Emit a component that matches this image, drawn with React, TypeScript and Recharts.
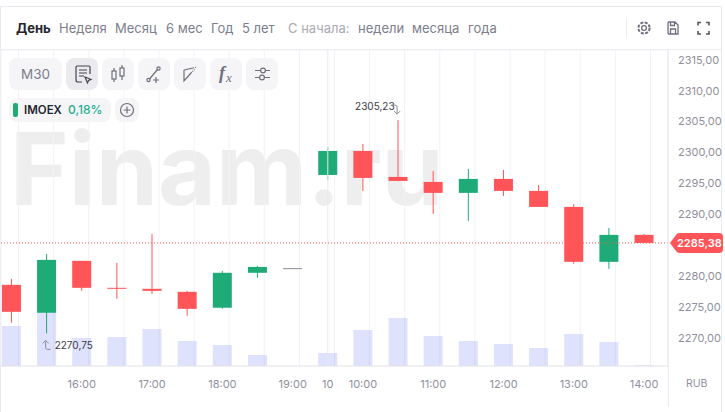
import React from "react";
import { Bar, CartesianGrid, ComposedChart, ReferenceDot, ReferenceLine, XAxis, YAxis } from "recharts";

const FONT = "Inter, 'Noto Sans', sans-serif";
const RED = "#ff5458";
const GREEN = "#1fab78";
const FLAT = "#8d8a9e";

// 30 minute candles, one slot per index
const slots = ["15:00", "15:30", "16:00", "16:30", "17:00", "17:30", "18:00", "18:30", "19:00", "10", "10:00", "10:30", "11:00", "11:30", "12:00", "12:30", "13:00", "13:30", "14:00"];
const opens = [2278.6, 2274.08, 2282.48, 2278.12, 2277.96, 2277.47, 2274.9, 2280.55, 2281.3, 2296.37, 2300.25, 2296.05, 2295.24, 2293.47, 2295.73, 2293.79, 2291.2, 2282.32, 2286.68];
const closes = [2274.24, 2282.64, 2278.12, 2277.96, 2277.63, 2274.72, 2280.55, 2281.5, 2281.3, 2300.25, 2295.89, 2295.4, 2293.47, 2295.73, 2293.79, 2291.2, 2282.32, 2286.68, 2285.38];
const highs = [2279.57, 2283.6, 2282.48, 2282.16, 2286.85, 2277.63, 2280.87, 2281.67, 2281.3, 2300.9, 2301.38, 2305.23, 2297.02, 2297.34, 2297.18, 2294.76, 2291.69, 2287.81, 2286.84];
const lows = [2272.5, 2270.75, 2277.63, 2276.35, 2277.15, 2273.6, 2274.72, 2279.74, 2281.3, 2295.57, 2293.79, 2295.4, 2290.07, 2288.94, 2292.98, 2291.2, 2282, 2281.19, 2285.38];
const volumes = [40, 53, 28, 29, 37, 25, 21, 11, 0, 13, 36, 48, 30, 25, 22, 18, 32, 24, 1];

const timeTicks = [2, 4, 6, 8, 9, 10, 12, 14, 16, 18];
const priceTicks = [2270, 2275, 2280, 2285, 2290, 2295, 2300, 2305, 2310, 2315].filter((p) => p !== 2285);
const lastPrice = 2285.38;
const maxMark = 2305.23;
const minMark = 2270.75;

const data = slots.map((slot, i) => ({
  i,
  slot,
  open: opens[i],
  close: closes[i],
  high: highs[i],
  low: lows[i],
  volume: volumes[i],
}));

const fmt = (v: number) => v.toFixed(2).replace(".", ",");

function Candle(props: any) {
  const { x, y, width, height, payload } = props;
  const { open, close, high, low } = payload;
  const perUnit = high > low ? height / (high - low) : 0;
  const top = y + (high - Math.max(open, close)) * perUnit;
  const bodyH = Math.max(Math.abs(open - close) * perUnit, 1);
  const color = close > open ? GREEN : close < open ? RED : FLAT;
  const mid = x + width / 2;
  return (
    <g>
      <rect x={mid - 0.5} y={y} width={1} height={height} fill={color} />
      <rect x={x} y={top} width={width} height={bodyH} fill={color} />
    </g>
  );
}

function LastPriceBadge(props: any) {
  const y = props.viewBox.y;
  const x = props.viewBox.x + props.viewBox.width;
  return (
    <g>
      <path
        d={`M${x + 2} ${y} l6 -8 q1 -2 4 -2 h39 q4 0 4 4 v12 q0 4 -4 4 h-39 q-3 0 -4 -2 z`}
        fill={RED}
      />
      <text x={x + 9} y={y + 4} fill="#fff" fontSize={11} fontWeight={600} fontFamily={FONT}>
        {fmt(lastPrice)}
      </text>
    </g>
  );
}

function HighMark(props: any) {
  const { cx, cy } = props;
  return (
    <g>
      <text x={cx - 43} y={cy - 10} fill="#3c3c46" fontSize={10} fontFamily={FONT}>
        {fmt(maxMark)}
      </text>
      <path d={`M${cx - 7} ${cy - 15} h4 q2 0 2 2 v6 m-3 -2 l3 3 l3 -3`} fill="none" stroke="#8a8a9a" strokeWidth={1} />
    </g>
  );
}

function LowMark(props: any) {
  const { cx, cy } = props;
  return (
    <g>
      <text x={cx + 8} y={cy + 16} fill="#3c3c46" fontSize={10} fontFamily={FONT}>
        {fmt(minMark)}
      </text>
      <path d={`M${cx + 4} ${cy + 16} h-3 q-2 0 -2 -2 v-6 m-3 2 l3 -3 l3 3`} fill="none" stroke="#8a8a9a" strokeWidth={1} />
    </g>
  );
}

function Label({ left, top, color, weight, size, children }: any) {
  return (
    <div style={{ position: "absolute", left, top, color, fontWeight: weight || 400, fontSize: size || 13, lineHeight: "16px", whiteSpace: "nowrap" }}>
      {children}
    </div>
  );
}

function ToolButton({ left, bg, children }: any) {
  return (
    <div style={{ position: "absolute", left, top: 58, width: 32, height: 32, borderRadius: 8, background: bg || "#f5f5f7" }}>
      <svg width={32} height={32} fill="none" stroke="#6f6f7d" strokeWidth={1.2}>
        {children}
      </svg>
    </div>
  );
}

export default function App() {
  return (
    <div style={{ position: "absolute", left: 0, top: 0, width: 725, height: 412, background: "#fff", overflow: "hidden", fontFamily: FONT }}>
      {/* frame */}
      <div style={{ position: "absolute", left: 0, top: 6, width: 722, height: 406, borderLeft: "1px solid #e9e9f1", borderTop: "1px solid #e9e9f1", borderRight: "1px solid #e9e9f1", boxSizing: "border-box" }} />
      <div style={{ position: "absolute", left: 1, top: 49, width: 720, height: 1, background: "#ececf2" }} />

      {/* watermark */}
      <div style={{ position: "absolute", left: 10, top: 108, fontSize: 100, lineHeight: "121px", fontWeight: 700, color: "#eeeeee", whiteSpace: "nowrap" }}>
        Finam.ru
      </div>

      <ComposedChart width={725} height={412} data={data} margin={{ top: 50, right: 0, bottom: 0, left: 1 }} style={{ position: "absolute", left: 0, top: 0 }}>
        <CartesianGrid stroke="#f2f2f5" />
        <XAxis
          xAxisId="time"
          dataKey="i"
          type="number"
          domain={[-0.299, 18.68]}
          ticks={timeTicks}
          height={46}
          allowDataOverflow
          interval={0}
          tickFormatter={(v: number) => slots[v]}
          tickLine={false}
          tick={{ fill: "#8f8f9d", fontSize: 11, fontFamily: FONT, dy: 6 }}
          axisLine={{ stroke: "#e8e8ee" }}
        />
        <XAxis xAxisId="vol" dataKey="i" type="number" domain={[-0.299, 18.68]} allowDataOverflow hide />
        <YAxis
          yAxisId="price"
          orientation="right"
          width={57}
          domain={[2265.48, 2316.57]}
          ticks={priceTicks}
          allowDataOverflow
          interval={0}
          tickFormatter={fmt}
          tickLine={false}
          tick={{ fill: "#8f8f9d", fontSize: 11, fontFamily: FONT, dx: 2 }}
          axisLine={{ stroke: "#e8e8ee" }}
        />
        <YAxis yAxisId="vol" hide domain={[0, 316]} />
        <ReferenceLine xAxisId="time" yAxisId="price" x={9} stroke="#e8e8ef" />
        <Bar xAxisId="vol" yAxisId="vol" dataKey="volume" barSize={19} fill="#5b6ff0" fillOpacity={0.2} isAnimationActive={false} />
        <ReferenceLine
          xAxisId="time"
          yAxisId="price"
          y={lastPrice}
          stroke={RED}
          strokeDasharray="1 2"
          label={<LastPriceBadge />}
        />
        <Bar
          xAxisId="time"
          yAxisId="price"
          dataKey={(d: any) => [d.low, d.high]}
          barSize={19}
          shape={<Candle />}
          isAnimationActive={false}
        />
        <ReferenceDot xAxisId="time" yAxisId="price" x={11} y={maxMark} shape={<HighMark />} />
        <ReferenceDot xAxisId="time" yAxisId="price" x={1} y={minMark} shape={<LowMark />} />
      </ComposedChart>

      <div style={{ position: "absolute", left: 668, top: 366, width: 1, height: 41, background: "#e8e8ee" }} />

      {/* period tabs */}
      <Label left={16} top={20} color="#26262e" weight={700}>День</Label>
      <Label left={59} top={20} color="#7d7d8b">Неделя</Label>
      <Label left={115} top={20} color="#7d7d8b">Месяц</Label>
      <Label left={166} top={20} color="#7d7d8b">6 мес</Label>
      <Label left={211} top={20} color="#7d7d8b">Год</Label>
      <Label left={242} top={20} color="#7d7d8b">5 лет</Label>
      <Label left={288} top={20} color="#a9a9b5">С начала:</Label>
      <Label left={358} top={20} color="#7d7d8b">недели</Label>
      <Label left={412} top={20} color="#7d7d8b">месяца</Label>
      <Label left={468} top={20} color="#7d7d8b">года</Label>

      <div style={{ position: "absolute", left: 626, top: 17, width: 1, height: 22, background: "#ececf2" }} />
      <svg style={{ position: "absolute", left: 634, top: 18 }} width={80} height={20} fill="none" stroke="#6f6f7d" strokeWidth={1.3}>
        <circle cx={10} cy={10} r={2.4} />
        <circle cx={10} cy={10} r={5.6} strokeDasharray="3 1.4" strokeWidth={2} />
        <path d="M35 4h6l3 3v9h-9q-1 0-1-1V5q0-1 1-1z M36.5 4v3.5h4V4 M36.5 16v-5h5v5" />
        <path d="M64 7.5V4.5h3 M72 4.5h3v3 M75 13v3h-3 M67 16h-3v-3" stroke="#55555f" strokeWidth={1.6} />
      </svg>

      {/* toolbar */}
      <div style={{ position: "absolute", left: 9, top: 58, width: 53, height: 32, borderRadius: 8, background: "#f5f5f7", color: "#7d7d8b", fontSize: 13.5, lineHeight: "32px", textAlign: "center" }}>М30</div>
      <ToolButton left={66} bg="#ebebef">
        <path d="M24 16V9q0-1-1-1H11q-1 0-1 1v13q0 2 2 2h4" stroke="#44444e" />
        <path d="M13 12h8M13 15h8M13 18h5" stroke="#44444e" />
        <path d="M19 19l6 2.5-2.5 1-1 2.5z" stroke="#44444e" />
      </ToolButton>
      <ToolButton left={102}>
        <rect x={10} y={13} width={4} height={8} />
        <rect x={18} y={10} width={4} height={8} />
        <path d="M12 10v3M12 21v3M20 7v3M20 18v4" />
      </ToolButton>
      <ToolButton left={138}>
        <circle cx={10.5} cy={22} r={1.6} />
        <circle cx={20.5} cy={10.5} r={1.6} />
        <path d="M11.5 21L19.5 11.5M18 19v6M15 22h6" />
      </ToolButton>
      <ToolButton left={174}>
        <path d="M10 12v11l7-8M10 12l9-2" />
        <path d="M19 10l4-1M17 15l4-4" strokeDasharray="1 1" />
      </ToolButton>
      <ToolButton left={210}>
        <text x={9} y={21} fontFamily="'Liberation Serif', serif" fontStyle="italic" fontWeight={700} fontSize={18} fill="#6f6f7d" stroke="none">f</text>
        <text x={16} y={24} fontFamily="'Liberation Serif', serif" fontStyle="italic" fontSize={13} fill="#6f6f7d" stroke="none">x</text>
      </ToolButton>
      <ToolButton left={246}>
        <path d="M9 12.5h5M20 12.5h4M9 19.5h4M19 19.5h5" />
        <circle cx={17} cy={12.5} r={2.4} />
        <circle cx={16} cy={19.5} r={2.4} />
      </ToolButton>

      {/* instrument legend */}
      <div style={{ position: "absolute", left: 9, top: 98, width: 102, height: 24, borderRadius: 8, background: "#f5f5f7" }} />
      <div style={{ position: "absolute", left: 13, top: 103, width: 5, height: 14, borderRadius: 2, background: GREEN }} />
      <Label left={24} top={102} color="#26262e" weight={600} size={11.5}>IMOEX</Label>
      <Label left={68} top={102} color="#1fae8f" weight={500} size={12}>0,18%</Label>
      <div style={{ position: "absolute", left: 115, top: 98, width: 24, height: 24, borderRadius: 8, background: "#f5f5f7" }}>
        <svg width={24} height={24} fill="none" stroke="#6f6f7d" strokeWidth={1.2}>
          <circle cx={12} cy={12} r={6.5} />
          <path d="M12 8.5v7M8.5 12h7" />
        </svg>
      </div>

      <div style={{ position: "absolute", left: 686, top: 377, color: "#8f8f9d", fontSize: 10.5, lineHeight: "13px" }}>RUB</div>
    </div>
  );
}
